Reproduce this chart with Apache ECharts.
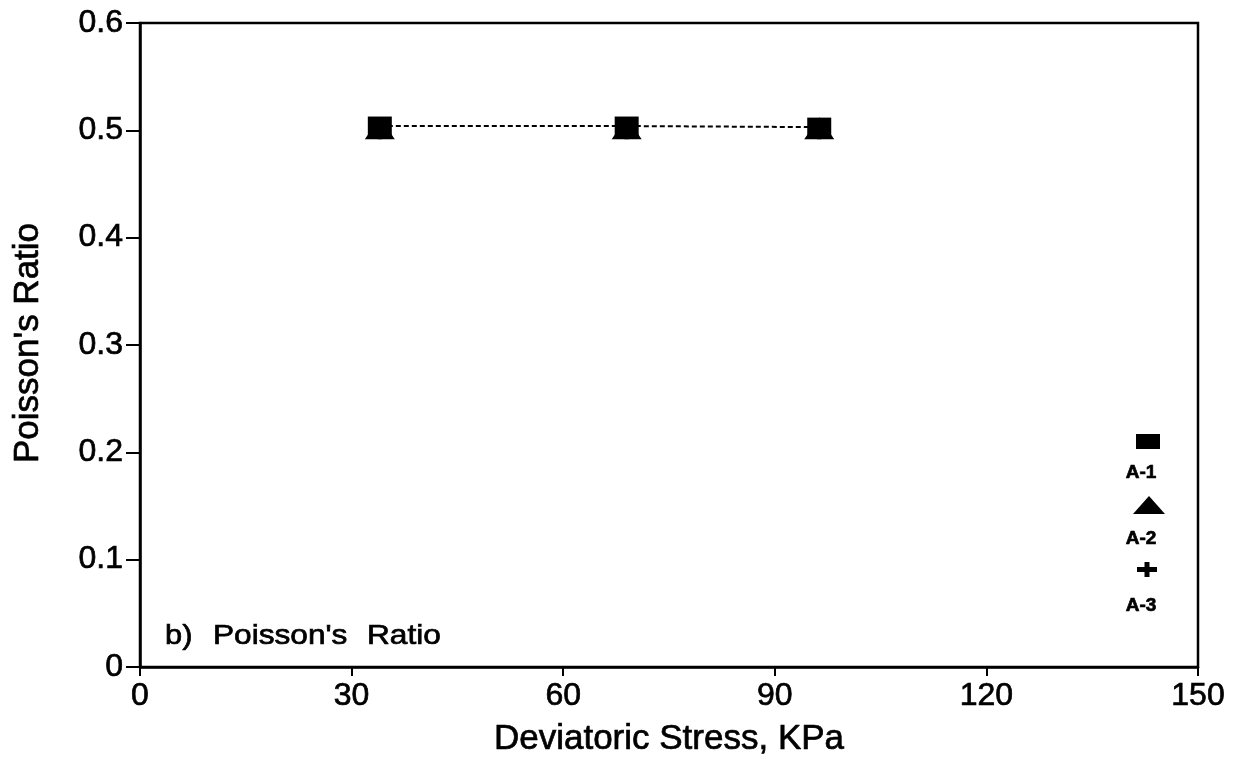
<!DOCTYPE html>
<html>
<head>
<meta charset="utf-8">
<script src="https://cdn.jsdelivr.net/npm/echarts@6/dist/echarts.min.js"></script>
<style>
  html, body { margin: 0; padding: 0; background: #fff; }
  #chart { width: 1243px; height: 767px; }
</style>
</head>
<body>
<div id="chart"></div>
<script>
// Deviatoric stress (kPa) at each loading stage
const stressA1 = [34, 69, 96.3];
const stressA2 = [34, 69, 96.3];
const stressA3 = [34, 69, 96.3];
// Poisson's ratio per specimen
const ratioA1 = [0.504, 0.504, 0.503];
const ratioA2 = [0.5, 0.5, 0.5];
const ratioA3 = [0.5, 0.5, 0.5];

const xTicks = [0, 30, 60, 90, 120, 150];
const yTicks = [0, 0.1, 0.2, 0.3, 0.4, 0.5, 0.6];
const seriesNames = ['A-1', 'A-2', 'A-3'];

const FONT = '"Liberation Sans", Arial, Helvetica, sans-serif';
const INK = '#000';
// slight outline so axis-label strokes read as heavy as a printed figure
const HEAVY = { textBorderColor: INK, textBorderWidth: 0.7 };

const chart = echarts.init(document.getElementById('chart'), null, { renderer: 'canvas' });

const plusPath = 'path://M-1,-0.25 L-0.25,-0.25 L-0.25,-1 L0.25,-1 L0.25,-0.25 L1,-0.25 L1,0.25 L0.25,0.25 L0.25,1 L-0.25,1 L-0.25,0.25 L-1,0.25 Z';

function pairs(xs, ys) { return xs.map((x, i) => [x, ys[i]]); }

// free-standing text drawn through the graphic component
function label(text, x, y, size, extra) {
  const e = extra || {};
  return { type: 'text', x, y, rotation: e.rotation || 0, scaleX: e.scaleX || 1,
    style: Object.assign({ text, fontFamily: FONT, fontSize: size, fill: INK,
                           stroke: INK, lineWidth: 0.7, verticalAlign: 'middle' }, e.style || {}) };
}

chart.setOption({
  animation: false,
  backgroundColor: '#fff',
  grid: { left: 140, right: 45, top: 23, bottom: 100, show: true,
          borderColor: INK, borderWidth: 2.5, backgroundColor: 'transparent' },
  xAxis: {
    type: 'value', min: xTicks[0], max: xTicks[xTicks.length - 1], interval: 30,
    axisLine: { show: true, lineStyle: { color: INK, width: 2.5 } },
    axisTick: { show: true, inside: false, length: 9, lineStyle: { color: INK, width: 2 } },
    axisLabel: { fontFamily: FONT, fontSize: 32, color: INK, margin: 13, ...HEAVY },
    splitLine: { show: false }
  },
  yAxis: {
    type: 'value', min: yTicks[0], max: yTicks[yTicks.length - 1], interval: 0.1,
    axisLine: { show: true, lineStyle: { color: INK, width: 2.5 } },
    axisTick: { show: true, inside: false, length: 14, lineStyle: { color: INK, width: 2 } },
    axisLabel: { fontFamily: FONT, fontSize: 32, color: INK, margin: 17, ...HEAVY,
                 formatter: v => (v === 0 ? '0' : v.toFixed(1)) },
    splitLine: { show: false }
  },
  series: [
    {
      name: seriesNames[2], type: 'line', data: pairs(stressA3, ratioA3),
      symbol: plusPath, symbolSize: 18, lineStyle: { width: 0, opacity: 0 },
      itemStyle: { color: INK }, z: 1
    },
    {
      name: seriesNames[1], type: 'line', data: pairs(stressA2, ratioA2),
      symbol: 'triangle', symbolSize: [30, 22], symbolOffset: [0, -2],
      lineStyle: { width: 0, opacity: 0 }, itemStyle: { color: INK }, z: 2
    },
    {
      name: seriesNames[0], type: 'line', data: pairs(stressA1, ratioA1),
      symbol: 'rect', symbolSize: [24, 19],
      lineStyle: { color: INK, width: 2, type: [5, 3] },
      itemStyle: { color: INK }, z: 3
    }
  ],
  graphic: [
    // axis titles
    label('Deviatoric Stress, KPa', 669, 739, 35, { style: { align: 'center' } }),
    label("Poisson's Ratio", 28, 343, 35, { rotation: Math.PI / 2, style: { align: 'center' } }),
    // panel caption
    label('b)', 165, 636, 28, { scaleX: 1.1 }),
    label("Poisson's", 213, 636, 28, { scaleX: 1.13 }),
    label('Ratio', 367, 636, 28, { scaleX: 1.13 }),
    // stacked key: symbol above its label
    { type: 'rect', shape: { x: 1136, y: 434, width: 24, height: 15 }, style: { fill: INK } },
    label('A-1', 1141, 473, 19, { style: { align: 'center', fontWeight: 'bold' } }),
    { type: 'polygon', shape: { points: [[1149, 496], [1165, 514], [1133, 514]] }, style: { fill: INK } },
    label('A-2', 1141, 539, 19, { style: { align: 'center', fontWeight: 'bold' } }),
    { type: 'rect', shape: { x: 1137, y: 567, width: 20, height: 5 }, style: { fill: INK } },
    { type: 'rect', shape: { x: 1144.5, y: 562, width: 5, height: 15 }, style: { fill: INK } },
    label('A-3', 1141, 606, 19, { style: { align: 'center', fontWeight: 'bold' } })
  ]
});
</script>
</body>
</html>
